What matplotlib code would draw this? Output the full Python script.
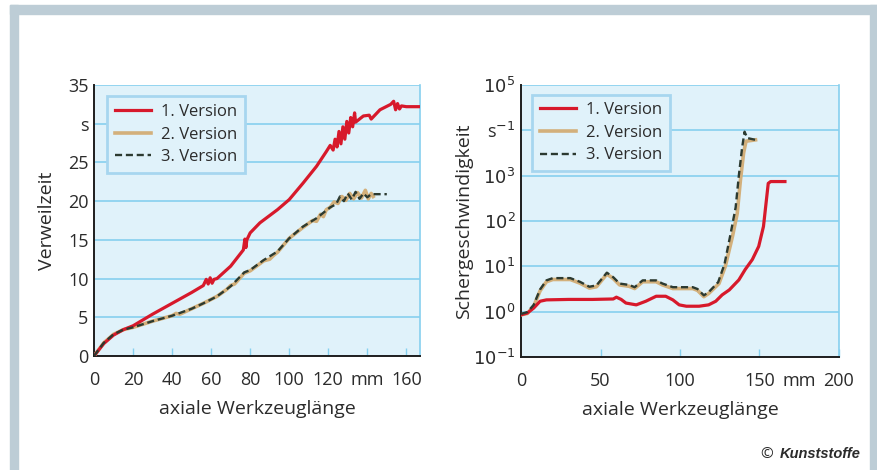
import numpy as np
import matplotlib
matplotlib.use("Agg")
import matplotlib.pyplot as plt
from matplotlib.patches import Rectangle

plt.rcParams['font.family'] = ['Open Sans', 'DejaVu Sans']

# ---- data ----
labels = ['1. Version', '2. Version', '3. Version']

# left: Verweilzeit (s) over axiale Werkzeuglaenge (mm)
v1_x = [0, 5, 10, 15, 20, 30, 40, 50, 56, 57.5, 58.5, 59.5, 60.5, 61.5, 63, 70, 76.5,
        77.3, 77.8, 78.3, 80, 85, 94, 100, 107, 114, 119, 121, 122.5, 123.5, 124.5, 125.5,
        126.5, 127.5, 128.5, 129.5, 130.5, 131.5, 132.5, 133.5, 134, 138, 141, 142, 146.5,
        152, 153.5, 154.5, 155.5, 156.5, 157.5, 160, 167]
v1_y = [0, 1.6, 2.7, 3.4, 3.9, 5.4, 6.8, 8.2, 9.1, 9.9, 9.3, 10.1, 9.4, 9.9, 10.0, 11.6, 13.7,
        15.1, 14.0, 15.0, 15.9, 17.2, 18.9, 20.2, 22.3, 24.5, 26.4, 27.2, 26.6, 28.0, 27.0, 29.0,
        27.4, 29.6, 28.0, 30.3, 28.8, 30.8, 29.6, 31.4, 30.2, 31.0, 31.1, 30.6, 31.8,
        32.5, 32.9, 31.8, 32.6, 31.9, 32.3, 32.2, 32.2]

v2_x = [0, 5, 10, 15, 20, 30, 40, 42, 44, 50, 56, 63, 68, 70, 72, 77, 80, 87, 90, 92, 94,
        100, 107, 112, 114, 116, 117.5, 119, 121, 123, 125, 127, 129, 131, 133, 135, 137, 139,
        140.5, 142, 143]
v2_y = [0, 1.7, 2.8, 3.4, 3.7, 4.5, 5.2, 5.5, 5.4, 6.1, 6.8, 7.7, 8.6, 9.1, 9.3, 10.7, 11.0,
        12.3, 12.5, 13.0, 13.4, 15.2, 16.6, 17.5, 17.4, 18.3, 18.0, 18.9, 19.2, 19.9, 19.7,
        20.6, 20.1, 21.0, 20.3, 21.1, 20.4, 21.4, 20.3, 21.0, 20.6]

v3_x = [0, 5, 10, 15, 20, 30, 40, 50, 56, 63, 70, 77, 80, 87, 94, 100, 107, 114, 117,
        121, 124, 126, 128, 130, 132, 134, 136, 138, 140, 142, 144, 150]
v3_y = [0, 1.7, 2.8, 3.4, 3.7, 4.5, 5.2, 6.1, 6.8, 7.7, 9.0, 10.8, 11.1, 12.4, 13.5, 15.2,
        16.7, 17.8, 18.4, 19.2, 19.6, 20.6, 20.0, 21.0, 20.2, 21.2, 20.3, 21.0, 20.5, 20.9,
        20.9, 20.9]

# right: Schergeschwindigkeit (1/s), log10 values
s1_x = [0, 4, 8, 12, 16, 30, 45, 58, 60, 63, 66, 72.5, 78.5, 85, 91, 95.5, 99.5, 104, 112,
        118, 122.5, 126.5, 131, 137, 141, 145.5, 149.5, 152.5, 155.5, 157, 166]
s1_l = [-0.07, -0.03, 0.08, 0.23, 0.26, 0.27, 0.27, 0.28, 0.32, 0.27, 0.19, 0.15, 0.23, 0.34,
        0.34, 0.26, 0.15, 0.12, 0.12, 0.15, 0.23, 0.37, 0.48, 0.70, 0.93, 1.15, 1.44, 1.88,
        2.83, 2.87, 2.87]

s2_x = [0, 4, 8, 12, 16, 20, 31, 37, 43, 47.5, 51, 54, 58, 62, 68, 71.5, 76.5, 85, 89, 95.5,
        108, 111, 115, 118, 124.5, 128.5, 133, 136, 138, 140, 141.5, 147.5]
s2_l = [-0.07, -0.04, 0.12, 0.46, 0.66, 0.71, 0.71, 0.63, 0.52, 0.55, 0.70, 0.83, 0.73, 0.59,
        0.56, 0.51, 0.66, 0.66, 0.59, 0.51, 0.51, 0.47, 0.33, 0.40, 0.62, 1.0, 1.66, 2.17,
        2.9, 3.5, 3.76, 3.79]

s3_x = [0, 4, 8, 12, 16, 20, 31, 37, 43, 47.5, 51, 54, 58, 62, 68, 71.5, 76.5, 85, 89, 95.5,
        108, 111, 115, 118, 124, 128, 132, 135, 137, 139, 140.6, 142.3, 147.5]
s3_l = [-0.05, -0.01, 0.15, 0.49, 0.69, 0.74, 0.74, 0.66, 0.55, 0.58, 0.73, 0.86, 0.76, 0.62,
        0.59, 0.54, 0.69, 0.69, 0.62, 0.54, 0.54, 0.50, 0.36, 0.43, 0.65, 1.05, 1.75, 2.3,
        3.0, 3.6, 3.97, 3.83, 3.79]

left_xticks = [0, 20, 40, 60, 80, 100, 120, 140, 160]
left_xlabels = ['0', '20', '40', '60', '80', '100', '120', 'mm', '160']
left_yticks = [0, 5, 10, 15, 20, 25, 30, 35]
left_ylabels = ['0', '5', '10', '15', '20', '25', 's', '35']
right_xticks = [0, 50, 100, 150, 175, 200]
right_xlabels = ['0', '50', '100', '150', 'mm', '200']
right_yticks = [1e-1, 1e0, 1e1, 1e2, 1e3, 1e4, 1e5]
right_ylabels = ['$10^{-1}$', '$10^{0}$', '$10^{1}$', '$10^{2}$', '$10^{3}$', 's$^{-1}$', '$10^{5}$']

# ---- style ----
RED = '#d7192b'
TAN = '#d3b07b'
DARK = '#2c3a30'
BG = '#e0f2fa'
GRID = '#86d0ef'
TXT = '#2b2b2b'
FRAME = '#bdcdd6'

fig = plt.figure(figsize=(8.78, 4.70), dpi=100)

# outer frame (top, left, right bars)
fig.patches.append(Rectangle((10 / 878, 1 - 14 / 470), 867 / 878, 9 / 470,
                             transform=fig.transFigure, color=FRAME, zorder=0))
fig.patches.append(Rectangle((10 / 878, 0), 8 / 878, 1 - 5 / 470,
                             transform=fig.transFigure, color=FRAME, zorder=0))
fig.patches.append(Rectangle((870 / 878, 0), 7 / 878, 1 - 5 / 470,
                             transform=fig.transFigure, color=FRAME, zorder=0))

ax1 = fig.add_axes([94 / 878, 1 - 356 / 470, 326 / 878, 271 / 470])
ax2 = fig.add_axes([521 / 878, 1 - 357 / 470, 318 / 878, 272 / 470])


def style(ax):
    ax.set_facecolor(BG)
    ax.spines['top'].set_visible(False)
    ax.spines['right'].set_color(GRID)
    ax.spines['right'].set_linewidth(1.2)
    for s in ('left', 'bottom'):
        ax.spines[s].set_color('#1e1e1e')
        ax.spines[s].set_linewidth(1.4)
    ax.grid(axis='y', color=GRID, linewidth=1.2)
    ax.set_axisbelow(True)
    ax.tick_params(axis='x', direction='in', length=6, width=1, color=GRID,
                   labelsize=13, labelcolor=TXT, pad=11)
    ax.tick_params(axis='y', length=0, labelsize=13, labelcolor=TXT, pad=4)
    ax.tick_params(which='minor', length=0)


# left chart
ax1.plot(v1_x, v1_y, color=RED, lw=2.3, label=labels[0], zorder=4)
ax1.plot(v2_x, v2_y, color=TAN, lw=2.6, label=labels[1], zorder=3)
ax1.plot(v3_x, v3_y, color=DARK, lw=1.7, ls=(0, (3, 1.6)), label=labels[2], zorder=5)
ax1.set_xlim(0, 167)
ax1.set_ylim(0, 35)
style(ax1)
ax1.set_xticks(left_xticks, left_xlabels)
ax1.set_yticks(left_yticks, left_ylabels)
ax1.set_ylabel('Verweilzeit', fontsize=14, color=TXT)
ax1.yaxis.set_label_coords(-0.118, 0.5)
ax1.set_xlabel('axiale Werkzeuglänge', fontsize=14, color=TXT, labelpad=8)

# right chart
ax2.plot(s1_x, 10 ** np.array(s1_l), color=RED, lw=2.3, label=labels[0], zorder=4)
ax2.plot(s2_x, 10 ** np.array(s2_l), color=TAN, lw=2.6, label=labels[1], zorder=3)
ax2.plot(s3_x, 10 ** np.array(s3_l), color=DARK, lw=1.7, ls=(0, (3, 1.6)), label=labels[2], zorder=5)
ax2.set_yscale('log')
ax2.set_xlim(0, 200)
ax2.set_ylim(1e-1, 1e5)
style(ax2)
ax2.set_xticks(right_xticks, right_xlabels)
ax2.set_yticks(right_yticks, right_ylabels)
ax2.xaxis.get_major_ticks()[0].tick1line.set_visible(False)
ax2.xaxis.get_major_ticks()[4].tick1line.set_visible(False)
ax2.set_ylabel('Schergeschwindigkeit', fontsize=14, color=TXT)
ax2.yaxis.set_label_coords(-0.152, 0.5)
ax2.set_xlabel('axiale Werkzeuglänge', fontsize=14, color=TXT, labelpad=8)

for ax, anchor in ((ax1, (0.04, 0.958)), (ax2, (0.035, 0.965))):
    leg = ax.legend(loc='upper left', bbox_to_anchor=anchor, fontsize=12, frameon=True,
                    fancybox=False, facecolor=BG, edgecolor='#a7d6ef', framealpha=1,
                    handlelength=2.2, handletextpad=0.6, borderpad=0.45, labelspacing=0.4,
                    borderaxespad=0)
    leg.get_frame().set_linewidth(2)
    for t in leg.get_texts():
        t.set_color(TXT)

fig.text(0.866, 0.025, '©', fontsize=11, color=TXT, ha='left')
fig.text(0.98, 0.025, 'Kunststoffe', fontsize=10.5, color=TXT, ha='right',
         fontweight='bold', fontstyle='italic', family=['Liberation Sans', 'DejaVu Sans'])

fig.savefig('out.png', dpi=100)
